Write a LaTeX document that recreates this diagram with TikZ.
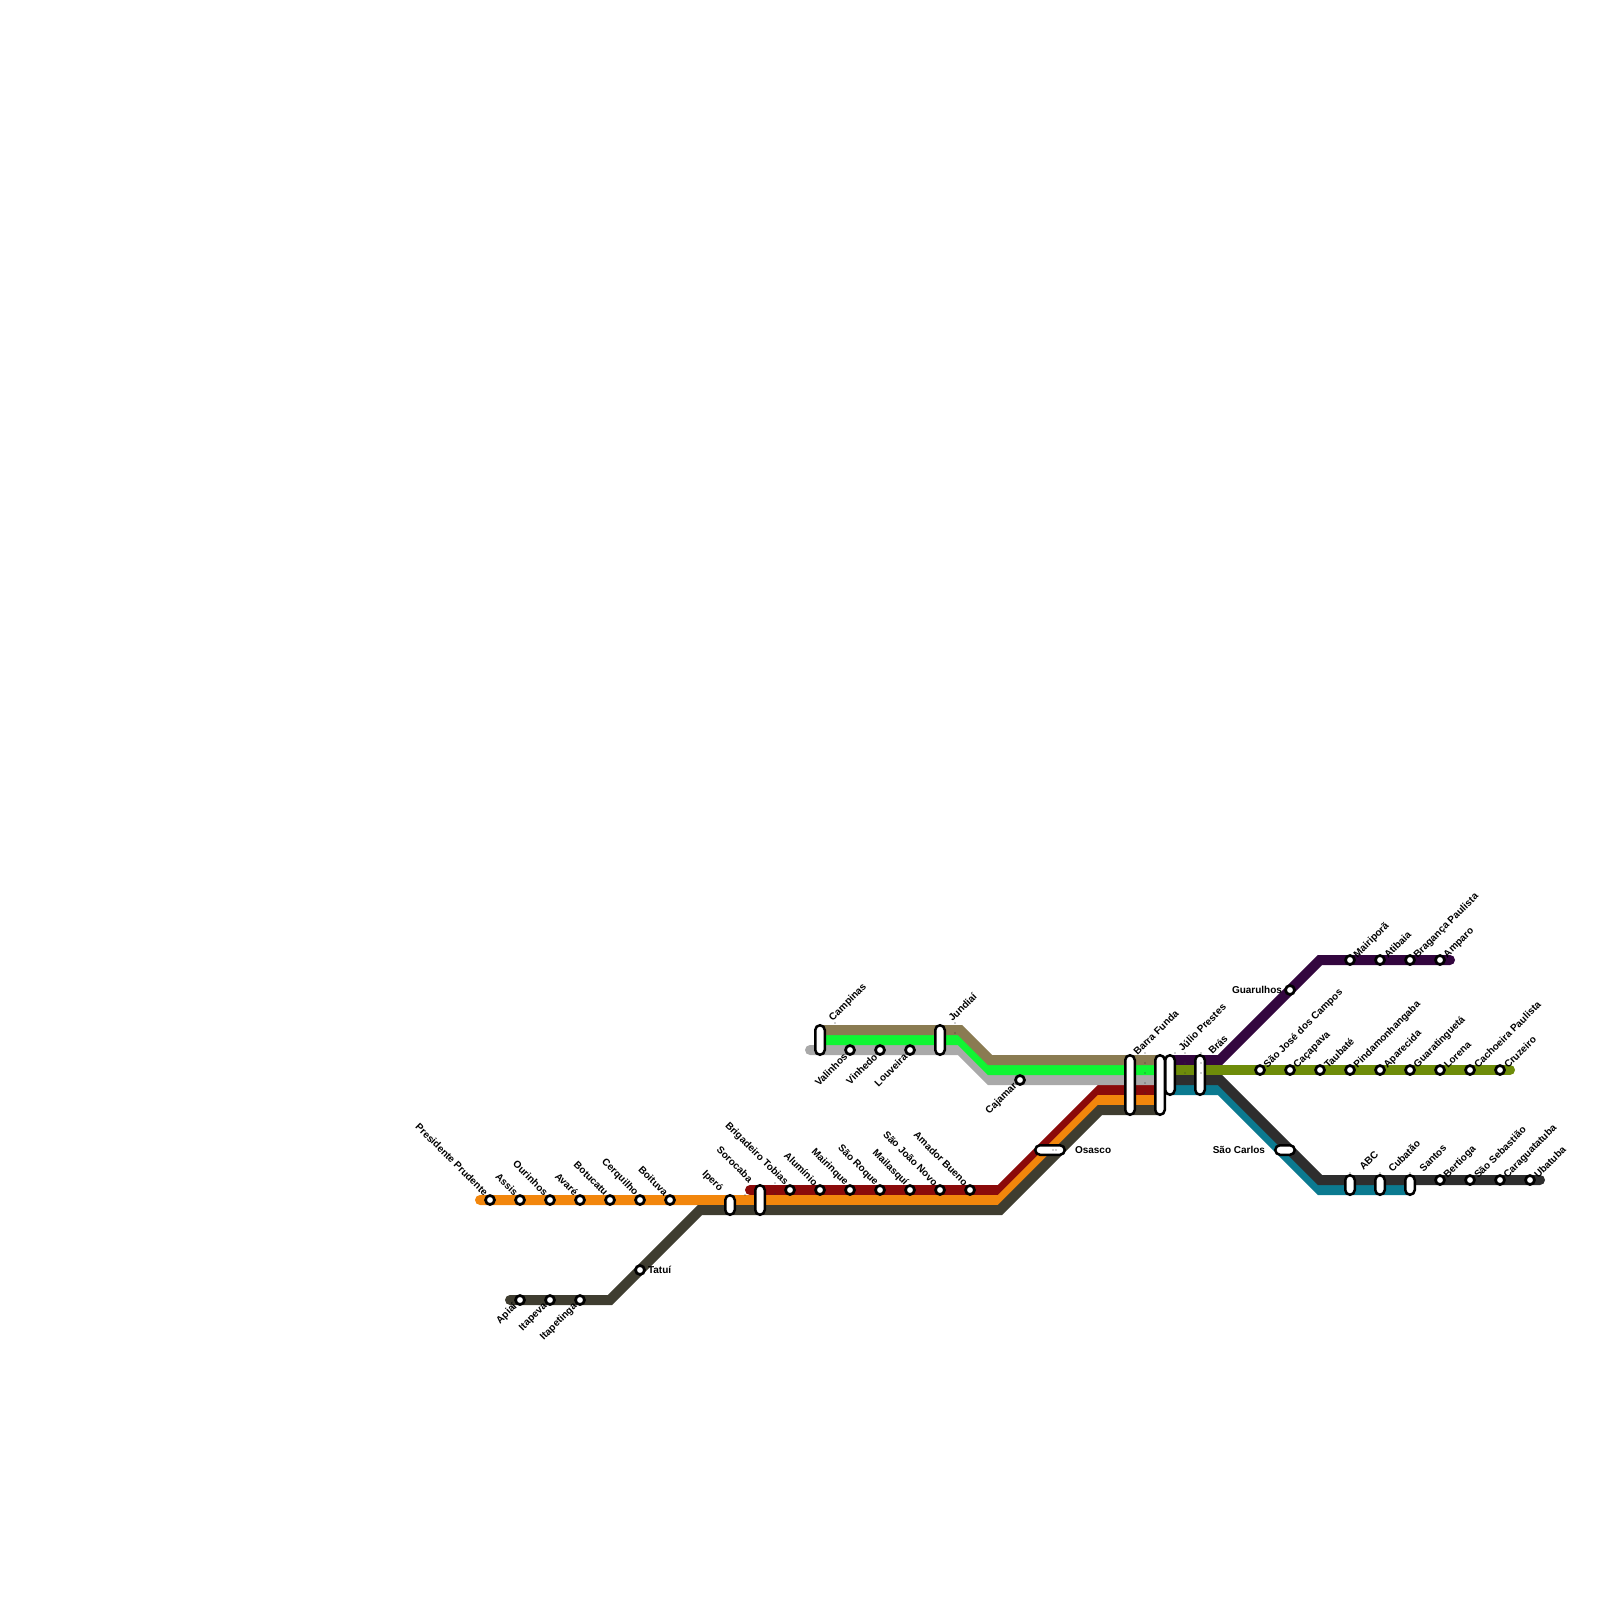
\documentclass[tikz,border=0pt]{standalone}
\usepackage{fontspec}
\setmainfont{Liberation Sans}
\definecolor{cOrange}{HTML}{F2860C}
\definecolor{cRed}{HTML}{8B0A0A}
\definecolor{cDark}{HTML}{3F3D30}
\definecolor{cBrown}{HTML}{8A7B52}
\definecolor{cGreen}{HTML}{10F533}
\definecolor{cGray}{HTML}{A9A9A9}
\definecolor{cPurple}{HTML}{33063F}
\definecolor{cOlive}{HTML}{6E8C0A}
\definecolor{cChar}{HTML}{2E2E2E}
\definecolor{cTeal}{HTML}{0B7A90}
\tikzset{
  railline/.style={line width=10pt,line join=miter,line cap=butt},
  station/.style={circle,draw=black,fill=white,line width=2.7pt,minimum size=9pt,inner sep=0pt,outer sep=0pt},
  vpill/.style={rectangle,draw=black,fill=white,line width=2.5pt,rounded corners=4.75pt,minimum width=9.5pt,inner sep=0pt,outer sep=0pt},
  hpill/.style={rectangle,draw=black,fill=white,line width=2.5pt,rounded corners=4.75pt,minimum height=9.5pt,inner sep=0pt,outer sep=0pt},
  txt/.style={inner sep=0pt,outer sep=0pt,font=\fontsize{10}{12}\bfseries\selectfont,text=black},
  lblUR/.style={txt,rotate=45,anchor=west,xshift=6.6pt,yshift=-1.5pt},
  lblUL/.style={txt,rotate=-45,anchor=east,xshift=-7pt,yshift=1.7pt},
  lblDL/.style={txt,rotate=45,anchor=east,xshift=-6.8pt,yshift=-0.5pt},
  lblR/.style={txt,anchor=west},
  lblL/.style={txt,anchor=east}
}
\newcommand{\stn}[5]{\node[station] (#1) at (#2,#3) {}; \node[#4] (#1-l) at (#1) {#5};}
\begin{document}
\begin{tikzpicture}[x=1pt,y=-1pt]
\useasboundingbox (0,0) rectangle (1600,1600);
% --- line way points
\coordinate (oA) at (480,1200); \coordinate (oB) at (1000,1200); \coordinate (oC) at (1100,1100); \coordinate (oD) at (1160,1100);
\coordinate (rA) at (750,1190); \coordinate (rB) at (1000,1190); \coordinate (rC) at (1100,1090); \coordinate (rD) at (1160,1090);
\coordinate (dA) at (510,1300); \coordinate (dB) at (610,1300); \coordinate (dC) at (700,1210); \coordinate (dD) at (1000,1210); \coordinate (dE) at (1100,1110); \coordinate (dF) at (1160,1110);
\coordinate (gA) at (810,1050); \coordinate (gB) at (960,1050); \coordinate (gC) at (990,1080); \coordinate (gD) at (1160,1080);
\coordinate (nA) at (820,1040); \coordinate (nB) at (960,1040); \coordinate (nC) at (990,1070); \coordinate (nD) at (1160,1070);
\coordinate (bA) at (820,1030); \coordinate (bB) at (960,1030); \coordinate (bC) at (990,1060); \coordinate (bD) at (1160,1060);
\coordinate (pA) at (1170,1060); \coordinate (pB) at (1220,1060); \coordinate (pC) at (1320,960); \coordinate (pD) at (1450,960);
\coordinate (vA) at (1170,1070); \coordinate (vB) at (1510,1070);
\coordinate (cA) at (1170,1080); \coordinate (cB) at (1220,1080); \coordinate (cC) at (1320,1180); \coordinate (cD) at (1540,1180);
\coordinate (tA) at (1170,1090); \coordinate (tB) at (1220,1090); \coordinate (tC) at (1320,1190); \coordinate (tD) at (1410,1190);
% --- lines
\draw[railline,cRed,line cap=round] (rA) -- (rB) -- (rC) -- (rD);
\draw[railline,cOrange,line cap=round] (oA) -- (oB) -- (oC) -- (oD);
\draw[railline,cDark,line cap=round] (dA) -- (dB) -- (dC) -- (dD) -- (dE) -- (dF);
\draw[railline,cGray,line cap=round] (gA) -- (gB) -- (gC) -- (gD);
\draw[railline,cGreen] (nA) -- (nB) -- (nC) -- (nD);
\draw[railline,cBrown] (bA) -- (bB) -- (bC) -- (bD);
\draw[railline,cPurple,line cap=round] (pA) -- (pB) -- (pC) -- (pD);
\draw[railline,cOlive,line cap=round] (vA) -- (vB);
\draw[railline,cTeal] (tA) -- (tB) -- (tC) -- (tD);
\draw[railline,cChar,line cap=round] (cA) -- (cB) -- (cC) -- (cD);
% --- interchanges
\node[vpill,minimum height=19.5pt] (iIpero) at (730,1205) {};
\node[lblUL] (iIpero-l) at (724.7,1195.7) {Iperó};
\node[vpill,minimum height=29.5pt] (iSoro) at (760,1200) {};
\node[lblUL] (iSoro-l) at (754.7,1186.7) {Sorocaba};
\node[vpill,minimum height=29.5pt] (iCamp) at (820,1040) {};
\node[lblUR] (iCamp-l) at (825.4,1023) {Campinas};
\node[vpill,minimum height=29.5pt] (iJund) at (940,1040) {};
\node[lblUR] (iJund-l) at (944.4,1023) {Jundiaí};
\node[hpill,minimum width=29.5pt] (iOsa) at (1050,1150) {};
\node[lblR] (iOsa-l) at (1075,1150) {Osasco};
\node[vpill,minimum height=59.5pt] (iBarra) at (1130,1085) {};
\node[lblUR] (iBarra-l) at (1129.4,1057) {Barra Funda};
\node[vpill,minimum height=59.5pt] (iJP) at (1160,1085) {};
\node[vpill,minimum height=39.5pt] (iJP2) at (1170,1075) {};
\node[lblUR] (iJP2-l) at (1174.4,1053) {Júlio Prestes};
\node[vpill,minimum height=39.5pt] (iBras) at (1200,1075) {};
\node[lblUR] (iBras-l) at (1204.4,1056) {Brás};
\node[hpill,minimum width=19.5pt] (iSC) at (1285,1150) {};
\node[lblL] (iSC-l) at (1265,1150) {São Carlos};
\node[vpill,minimum height=19.5pt] (iABC) at (1350,1185) {};
\node[lblUR] (iABC-l) at (1355.4,1172) {ABC};
\node[vpill,minimum height=19.5pt] (iCub) at (1380,1185) {};
\node[lblUR] (iCub-l) at (1384.4,1174) {Cubatão};
\node[vpill,minimum height=19.5pt] (iSan) at (1410,1185) {};
\node[lblUR] (iSan-l) at (1415.4,1173.5) {Santos};
% --- tiny dots
\foreach \px/\py in {745/1195,775/1183,775/1194,835/1023,955/1023,955/1033,1053/1150,1056/1150,1145/1053,1145/1063,1145/1073,1145/1083,1145/1093,1175/1053,1185/1053,1185/1063,1185/1073,1201/1053,1201/1063,1201/1073,1350/1173,1380/1173,1410/1173}
  \fill[black!80] (\px,\py) circle (0.7pt);
% --- stations
\stn{s1}{490}{1200}{lblUL}{Presidente Prudente}
\stn{s2}{520}{1200}{lblUL}{Assis}
\stn{s3}{550}{1200}{lblUL}{Ourinhos}
\stn{s4}{580}{1200}{lblUL}{Avaré}
\stn{s5}{610}{1200}{lblUL}{Botucatu}
\stn{s6}{640}{1200}{lblUL}{Cerquilho}
\stn{s7}{670}{1200}{lblUL}{Boituva}
\stn{s8}{520}{1300}{lblDL}{Apiaí}
\stn{s9}{550}{1300}{lblDL}{Itapeva}
\stn{s10}{580}{1300}{lblDL}{Itapetinga}
\node[station] (s11) at (640,1270) {}; \node[lblR] (s11-l) at (648,1270) {Tatuí};
\stn{s12}{790}{1190}{lblUL}{Brigadeiro Tobias}
\stn{s13}{820}{1190}{lblUL}{Alumínio}
\stn{s14}{850}{1190}{lblUL}{Mairinque}
\stn{s15}{880}{1190}{lblUL}{São Roque}
\stn{s16}{910}{1190}{lblUL}{Mailasquí}
\stn{s17}{940}{1190}{lblUL}{São João Novo}
\stn{s18}{970}{1190}{lblUL}{Amador Bueno}
\stn{s19}{850}{1050}{lblDL}{Valinhos}
\stn{s20}{880}{1050}{lblDL}{Vinhedo}
\stn{s21}{910}{1050}{lblDL}{Louveira}
\stn{s22}{1020}{1080}{lblDL}{Cajamar}
\node[station] (s23) at (1290,990) {}; \node[lblL] (s23-l) at (1282,990) {Guarulhos};
\stn{s24}{1350}{960}{lblUR}{Mairiporã}
\stn{s25}{1380}{960}{lblUR}{Atibaia}
\stn{s26}{1410}{960}{lblUR}{Bragança Paulista}
\stn{s27}{1440}{960}{lblUR}{Amparo}
\stn{s28}{1260}{1070}{lblUR}{São José dos Campos}
\stn{s29}{1290}{1070}{lblUR}{Caçapava}
\stn{s30}{1320}{1070}{lblUR}{Taubaté}
\stn{s31}{1350}{1070}{lblUR}{Pindamonhangaba}
\stn{s32}{1380}{1070}{lblUR}{Aparecida}
\stn{s33}{1410}{1070}{lblUR}{Guaratinguetá}
\stn{s34}{1440}{1070}{lblUR}{Lorena}
\stn{s35}{1470}{1070}{lblUR}{Cachoeira Paulista}
\stn{s36}{1500}{1070}{lblUR}{Cruzeiro}
\stn{s37}{1440}{1180}{lblUR}{Bertioga}
\stn{s38}{1470}{1180}{lblUR}{São Sebastião}
\stn{s39}{1500}{1180}{lblUR}{Caraguatatuba}
\stn{s40}{1530}{1180}{lblUR}{Ubatuba}
\end{tikzpicture}
\end{document}
